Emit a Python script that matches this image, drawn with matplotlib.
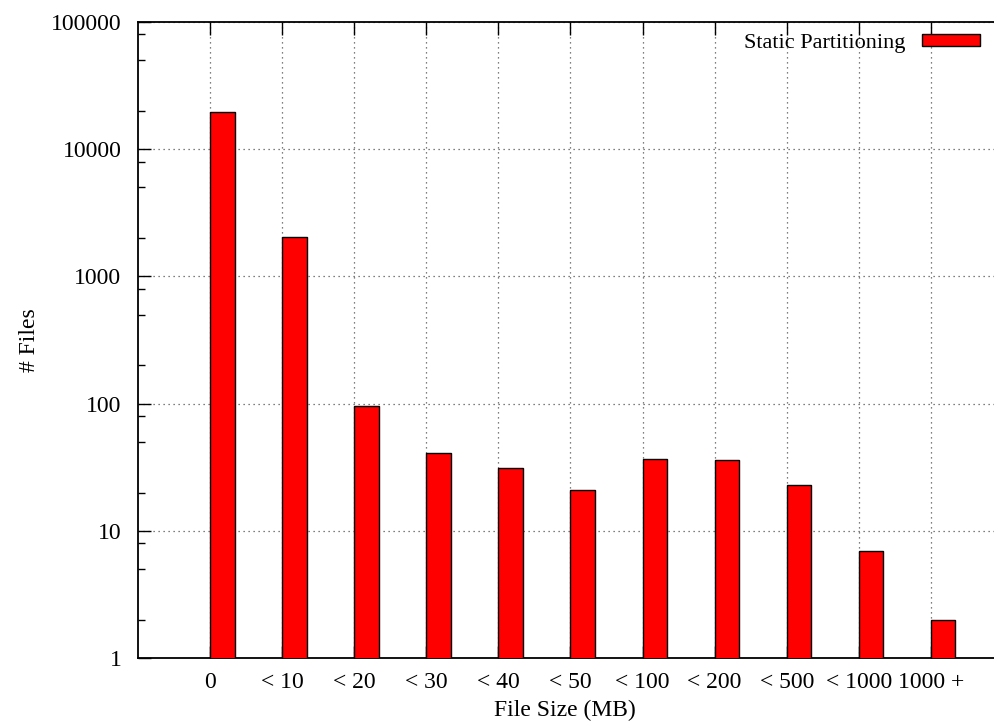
import matplotlib
matplotlib.use("Agg")
import matplotlib.pyplot as plt
from matplotlib.ticker import FixedLocator, NullFormatter

plt.rcParams["font.family"] = ["Liberation Serif", "DejaVu Serif"]
plt.rcParams["font.size"] = 17

# File-count histogram per size bucket
size_buckets = ["0", "< 10", "< 20", "< 30", "< 40", "< 50",
                "< 100", "< 200", "< 500", "< 1000", "1000 +"]
file_counts = [19500, 2040, 96, 41, 31, 21, 37, 36, 23, 7, 2]
series_name = "Static Partitioning"
y_ticks = [1, 10, 100, 1000, 10000, 100000]

fig = plt.figure(figsize=(9.95, 7.22), dpi=100)
W, H = 995, 722
ax_w = 1003 - 138
ax = fig.add_axes([138 / W, (H - 658) / H, ax_w / W, (658 - 22) / H])

x = list(range(len(size_buckets)))
ax.bar(x, file_counts, width=0.34, align="edge", color="#ff0000",
       edgecolor="black", linewidth=1.0, zorder=3, label=series_name)

ax.set_yscale("log")
ax.set_ylim(1, 100000)
ax.set_xlim(-1, 11)

ax.set_yticks(y_ticks)
ax.set_yticklabels([str(v) for v in y_ticks])
minor = [m * 10 ** k for k in range(0, 5) for m in (2, 5, 8)]
ax.yaxis.set_minor_locator(FixedLocator(minor))
ax.yaxis.set_minor_formatter(NullFormatter())

ax.set_xticks(x)
ax.set_xticklabels(size_buckets)

ax.tick_params(axis="both", which="major", direction="in", length=9, width=1,
               top=True, right=False, pad=12)
ax.tick_params(axis="y", which="minor", direction="in", length=5, width=1,
               right=False)
ax.tick_params(axis="x", which="major", pad=10)

ax.grid(True, which="major", color="#555555", linestyle=(0, (1, 3)),
        linewidth=0.9, zorder=0)
ax.set_axisbelow(True)

for side in ("left", "bottom", "top"):
    ax.spines[side].set_linewidth(1.3)
ax.spines["right"].set_visible(False)

ax.set_xlabel("File Size (MB)")
ax.set_ylabel("# Files")
ax.xaxis.set_label_coords((565 - 138) / ax_w, -0.083)
ax.yaxis.set_label_coords((30 - 138) / ax_w, 0.5)
ax.xaxis.label.set_va("center")
ax.yaxis.label.set_va("center")

leg = ax.legend(loc="upper right", bbox_to_anchor=(980 / W, (H - 34) / H),
                bbox_transform=fig.transFigure, frameon=False, fontsize=16,
                markerfirst=False, handlelength=2.6, handleheight=0.45,
                handletextpad=0.75, borderpad=0, borderaxespad=0)

fig.savefig("out.png", dpi=100)
